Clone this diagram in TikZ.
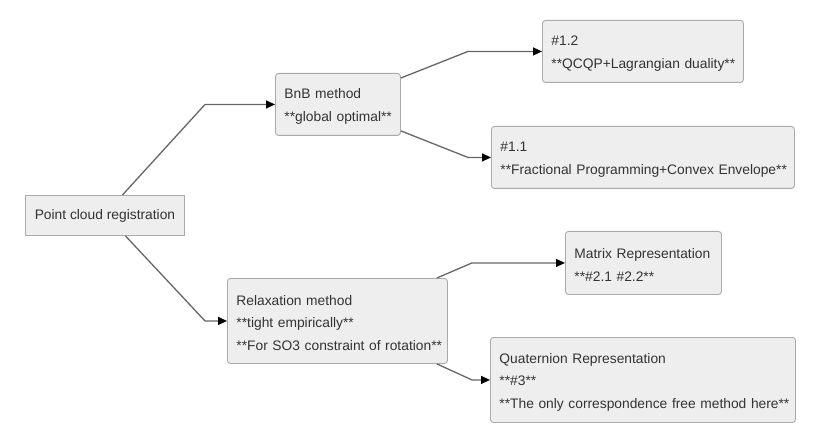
\documentclass[tikz,border=0pt]{standalone}
\usepackage{fontspec}
\setmainfont{Liberation Sans}
\usetikzlibrary{arrows.meta,calc}
\definecolor{boxfill}{RGB}{238,238,238}
\definecolor{boxline}{RGB}{170,170,170}
\definecolor{txt}{RGB}{51,51,51}
\definecolor{edge}{RGB}{102,102,102}
\newcommand{\myline}[1]{\mbox{#1}}
\tikzset{
  box/.style={draw=boxline, fill=boxfill, line width=0.9pt, rounded corners=3pt,
    anchor=north west, inner xsep=9pt, inner ysep=0pt, align=left, text=txt,
    font=\fontsize{13.8}{22.5}\selectfont,
    execute at begin node={\rule{0pt}{14pt}}},
  rootbox/.style={draw=boxline, fill=boxfill, line width=0.9pt,
    anchor=north west, inner sep=0pt, text=txt, font=\fontsize{13.8}{17}\selectfont},
  link/.style={draw=edge, line width=1.3pt, -{Triangle[length=9pt,width=8pt,color=black]}}
}
\begin{document}
\begin{tikzpicture}[x=1pt,y=-1pt]
\useasboundingbox (0,0) rectangle (816,438);
\node[rootbox, minimum width=159pt, minimum height=40pt] (root) at (25,195) {\raisebox{-2pt}{Point cloud registration}};
\node[box, text width=107pt, minimum height=62pt] (bnb) at (275,73) {\myline{BnB method}\\\myline{**global optimal**}};
\node[box, text width=183pt, minimum height=62pt] (n12) at (542,20) {\myline{\#1.2}\\\myline{**QCQP+Lagrangian duality**}};
\node[box, text width=285pt, minimum height=62pt] (n11) at (491,126) {\myline{\#1.1}\\\myline{**Fractional Programming+Convex Envelope**}};
\node[box, text width=202pt, minimum height=85pt] (relax) at (227,278) {\myline{Relaxation method}\\\myline{**tight empirically**}\\\myline{**For SO3 constraint of rotation**}};
\node[box, text width=138pt, minimum height=63pt] (matrix) at (565,231) {\myline{Matrix Representation}\\\myline{**\#2.1 \#2.2**}};
\node[box, text width=287pt, minimum height=85pt] (quat) at (490,337) {\myline{Quaternion Representation}\\\myline{**\#3**}\\\myline{**The only correspondence free method here**}};
\coordinate (bx1) at (205,0);
\coordinate (bx2) at (468,0);
\coordinate (bx3) at (472,0);
\draw[link] ([xshift=17.5pt]root.north) -- (bx1 |- bnb.west) -- (bnb.west);
\draw[link] ([xshift=20.5pt]root.south) -- (bx1 |- relax.west) -- (relax.west);
\draw[link] ([yshift=-5pt]bnb.north east) -- (bx2 |- n12.west) -- (n12.west);
\draw[link] ([yshift=5pt]bnb.south east) -- (bx2 |- n11.west) -- (n11.west);
\draw[link] ([xshift=-11pt]relax.north east) -- (bx3 |- matrix.west) -- (matrix.west);
\draw[link] ([xshift=-11pt]relax.south east) -- (bx3 |- quat.west) -- (quat.west);
\end{tikzpicture}
\end{document}
